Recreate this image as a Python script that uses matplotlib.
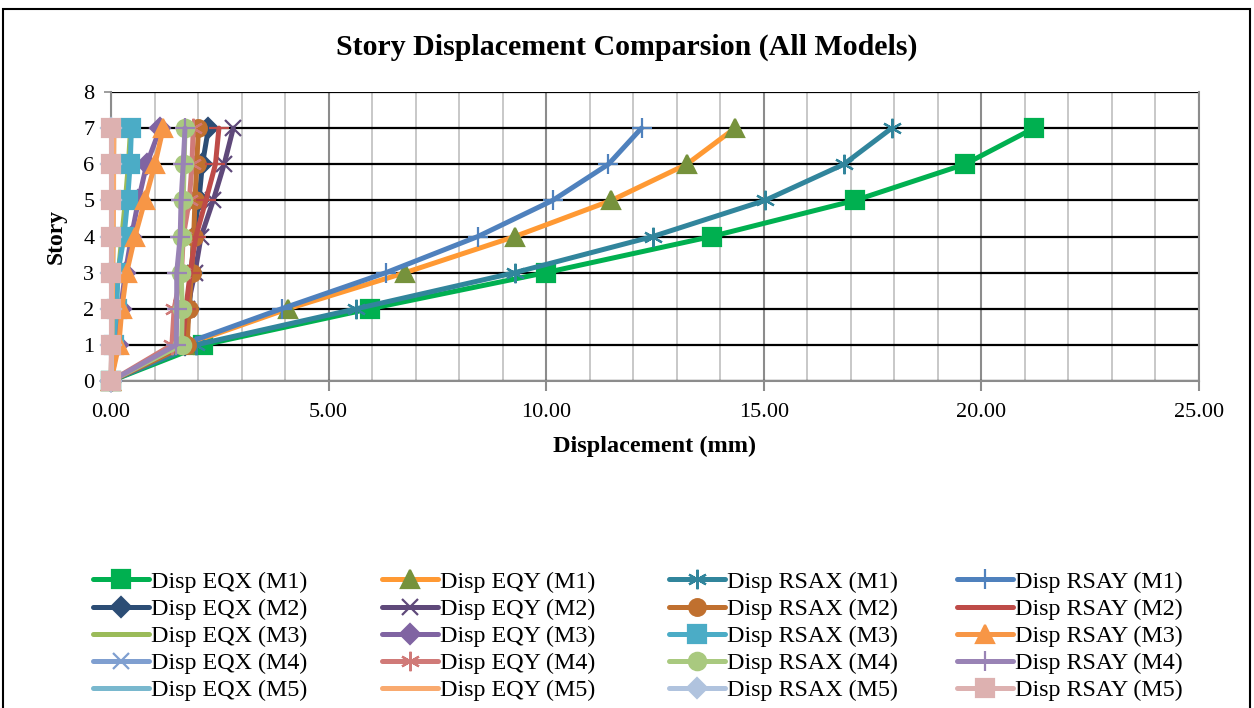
from matplotlib import pyplot as plt
from matplotlib.patches import Rectangle
from matplotlib.ticker import MultipleLocator, FormatStrFormatter
import numpy as np

plt.rcParams['font.family'] = ['Liberation Serif', 'DejaVu Serif']

story = [0, 1, 2, 3, 4, 5, 6, 7]

# displacement (mm) per story
eqx_m1 = [0, 2.12, 5.95, 9.99, 13.80, 17.10, 19.62, 21.21]
eqy_m1 = [0, 1.70, 4.07, 6.76, 9.28, 11.50, 13.23, 14.34]
rsax_m1 = [0, 1.95, 5.64, 9.28, 12.45, 15.03, 16.84, 17.94]
rsay_m1 = [0, 1.62, 3.92, 6.32, 8.43, 10.15, 11.43, 12.19]

eqx_m2 = [0, 1.70, 1.80, 1.85, 1.90, 2.02, 2.10, 2.24]
eqy_m2 = [0, 1.65, 1.75, 1.93, 2.07, 2.35, 2.60, 2.81]
rsax_m2 = [0, 1.75, 1.79, 1.85, 1.90, 1.93, 1.97, 2.01]
rsay_m2 = [0, 1.64, 1.72, 1.82, 1.95, 2.18, 2.40, 2.48]

eqx_m3 = [0, 0.05, 0.10, 0.17, 0.25, 0.33, 0.40, 0.45]
eqy_m3 = [0, 0.15, 0.22, 0.33, 0.47, 0.63, 0.82, 1.13]
rsax_m3 = [0, 0.06, 0.13, 0.16, 0.30, 0.38, 0.44, 0.47]
rsay_m3 = [0, 0.18, 0.25, 0.36, 0.55, 0.78, 1.01, 1.20]

eqx_m4 = [0, 0.00, 0.00, 0.00, 0.00, 0.00, 0.00, 0.00]
eqy_m4 = [0, 1.40, 1.45, 1.62, 1.66, 1.80, 1.86, 1.89]
rsax_m4 = [0, 1.62, 1.64, 1.61, 1.64, 1.66, 1.68, 1.70]
rsay_m4 = [0, 1.50, 1.51, 1.51, 1.59, 1.61, 1.66, 1.70]

eqx_m5 = [0, 0.02, 0.03, 0.04, 0.05, 0.05, 0.06, 0.06]
eqy_m5 = [0, 0.02, 0.03, 0.04, 0.05, 0.06, 0.06, 0.07]
rsax_m5 = [0, 0.00, 0.00, 0.00, 0.00, 0.00, 0.00, 0.00]
rsay_m5 = [0, 0.01, 0.01, 0.01, 0.01, 0.01, 0.01, 0.01]

# label, data, line colour, marker, marker colour, marker size
series = [
    ('Disp EQX (M1)', eqx_m1, '#00B050', 's', '#00B050', 12.5),
    ('Disp EQY (M1)', eqy_m1, '#FF9933', '^', '#76923C', 13.5),
    ('Disp RSAX (M1)', rsax_m1, '#31859C', (6, 2, 0), '#31859C', 14),
    ('Disp RSAY (M1)', rsay_m1, '#4F81BD', '+', '#4F81BD', 14),
    ('Disp EQX (M2)', eqx_m2, '#2C4D75', 'D', '#2C4D75', 10),
    ('Disp EQY (M2)', eqy_m2, '#5F497A', 'x', '#5F497A', 12),
    ('Disp RSAX (M2)', rsax_m2, '#C0702F', 'o', '#C0702F', 12),
    ('Disp RSAY (M2)', rsay_m2, '#BE4B48', '_', '#BE4B48', 14),
    ('Disp EQX (M3)', eqx_m3, '#9BBB59', None, '#9BBB59', 0),
    ('Disp EQY (M3)', eqy_m3, '#8064A2', 'D', '#8064A2', 10),
    ('Disp RSAX (M3)', rsax_m3, '#4BACC6', 's', '#4BACC6', 12.5),
    ('Disp RSAY (M3)', rsay_m3, '#F79646', '^', '#F79646', 13.5),
    ('Disp EQX (M4)', eqx_m4, '#7F9FD0', 'x', '#7F9FD0', 12),
    ('Disp EQY (M4)', eqy_m4, '#D07A78', (6, 2, 0), '#D07A78', 14),
    ('Disp RSAX (M4)', rsax_m4, '#A9C97F', 'o', '#A9C97F', 12.5),
    ('Disp RSAY (M4)', rsay_m4, '#9983B5', '+', '#9983B5', 14),
    ('Disp EQX (M5)', eqx_m5, '#79B8CE', None, '#79B8CE', 0),
    ('Disp EQY (M5)', eqy_m5, '#F9AA6F', None, '#F9AA6F', 0),
    ('Disp RSAX (M5)', rsax_m5, '#B0C3DE', 'D', '#B0C3DE', 10),
    ('Disp RSAY (M5)', rsay_m5, '#DDB1B0', 's', '#DDB1B0', 12.5),
]

fig = plt.figure(figsize=(12.54, 7.08), dpi=100)
ax = fig.add_axes([111 / 1254, 1 - 381 / 708, 1088 / 1254, 289 / 708])

handles = []
for label, vals, color, marker, mcolor, ms in series:
    h, = ax.plot(vals, story, color=color, lw=3.6, marker=marker, ms=ms,
                 markerfacecolor=mcolor, markeredgecolor=mcolor,
                 markeredgewidth=1.6, label=label, solid_capstyle='round',
                 clip_on=False, zorder=3)
    handles.append(h)

ax.set_xlim(0, 25)
ax.set_ylim(0, 8)
ax.xaxis.set_major_locator(MultipleLocator(5))
ax.xaxis.set_minor_locator(MultipleLocator(1))
ax.yaxis.set_major_locator(MultipleLocator(1))
ax.xaxis.set_major_formatter(FormatStrFormatter('%.2f'))

ax.grid(axis='x', which='minor', color='#BFBFBF', lw=1.2, zorder=0)
ax.grid(axis='x', which='major', color='#8C8C8C', lw=1.5, zorder=0)
ax.grid(axis='y', which='major', color='black', lw=1.6, zorder=0)
ax.set_axisbelow(True)

for s in ['left', 'bottom', 'right']:
    ax.spines[s].set_color('#8C8C8C')
    ax.spines[s].set_linewidth(1.5)
ax.spines['top'].set_visible(False)

ax.tick_params(axis='x', which='major', direction='out', length=7,
               color='#8C8C8C', width=1.5, labelsize=16, pad=9)
ax.tick_params(axis='x', which='minor', length=0)
ax.tick_params(axis='y', direction='out', length=5, color='#8C8C8C',
               width=1.2, labelsize=16, pad=7)

ax.set_xlabel('Displacement (mm)', fontsize=17.5, fontweight='bold', labelpad=10)
ax.set_ylabel('Story', fontsize=17, fontweight='bold', labelpad=12)
fig.text(0.5, 1 - 47 / 708, 'Story Displacement Comparsion (All Models)',
         ha='center', va='center', fontsize=21.5, fontweight='bold')

# four legend columns, entries laid out row by row like the original
col_x = [93, 382, 669, 957]
for c in range(4):
    hs = [handles[r * 4 + c] for r in range(5)]
    leg = fig.legend(handles=hs, loc='upper left',
                     bbox_to_anchor=(col_x[c] / 1254, 1 - 571 / 708),
                     frameon=False, fontsize=17.3, handlelength=2.35,
                     handletextpad=0.05, labelspacing=0.22, borderpad=0,
                     borderaxespad=0)

fig.patches.append(Rectangle((3 / 1254, -0.1), 1247 / 1254, 1.1 - 9 / 708,
                             transform=fig.transFigure, fill=False,
                             edgecolor='black', lw=1.5))

fig.savefig('out.png', dpi=100)
